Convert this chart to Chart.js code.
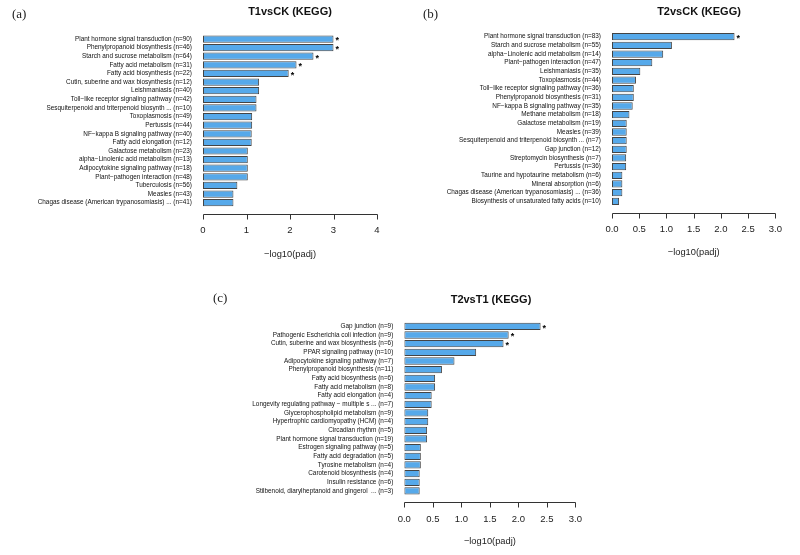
<!DOCTYPE html>
<html>
<head>
<meta charset="utf-8">
<script src="https://cdn.jsdelivr.net/npm/chart.js@4"></script>
<style>
  body { margin: 0; background: #fff; }
  #wrap { position: relative; width: 800px; height: 555px; overflow: hidden; }
  canvas { position: absolute; }
  .tag { position: absolute; font-family: 'Liberation Serif', 'Times New Roman', serif; font-size: 13px; color: #222; line-height: 1; }
  .ttl { position: absolute; font-family: 'Liberation Sans', Arial, sans-serif; font-weight: bold; font-size: 11px; color: #111; line-height: 1; transform: translate(-50%, -50%); white-space: nowrap; }
</style>
</head>
<body>
<div id="wrap">
  <canvas id="chartA" width="400" height="277" style="left:0;top:0"></canvas>
  <canvas id="chartB" width="400" height="277" style="left:400px;top:0"></canvas>
  <canvas id="chartC" width="400" height="278" style="left:200px;top:277px"></canvas>
  <div class="tag" style="left:12px;top:7px">(a)</div>
  <div class="tag" style="left:423px;top:7px">(b)</div>
  <div class="tag" style="left:213px;top:291px">(c)</div>
  <div class="ttl" style="left:290px;top:11px">T1vsCK (KEGG)</div>
  <div class="ttl" style="left:699px;top:11px">T2vsCK (KEGG)</div>
  <div class="ttl" style="left:491px;top:299px">T2vsT1 (KEGG)</div>
</div>
<script>
// (a) T1vsCK
const labelsA = [
    'Plant hormone signal transduction (n=90)',
    'Phenylpropanoid biosynthesis (n=46)',
    'Starch and sucrose metabolism (n=64)',
    'Fatty acid metabolism (n=31)',
    'Fatty acid biosynthesis (n=22)',
    'Cutin, suberine and wax biosynthesis (n=12)',
    'Leishmaniasis (n=40)',
    'Toll−like receptor signaling pathway (n=42)',
    'Sesquiterpenoid and triterpenoid biosynth ... (n=10)',
    'Toxoplasmosis (n=49)',
    'Pertussis (n=44)',
    'NF−kappa B signaling pathway (n=40)',
    'Fatty acid elongation (n=12)',
    'Galactose metabolism (n=23)',
    'alpha−Linolenic acid metabolism (n=13)',
    'Adipocytokine signaling pathway (n=18)',
    'Plant−pathogen interaction (n=48)',
    'Tuberculosis (n=56)',
    'Measles (n=43)',
    'Chagas disease (American trypanosomiasis) ... (n=41)'
];
const valuesA = [3.0, 3.0, 2.54, 2.15, 1.97, 1.29, 1.29, 1.23, 1.23, 1.13, 1.13, 1.12, 1.12, 1.03, 1.03, 1.03, 1.03, 0.79, 0.70, 0.70];
const starsA = ['*', '*', '*', '*', '*', '', '', '', '', '', '', '', '', '', '', '', '', '', '', ''];
const ticksA = [0, 1, 2, 3, 4];

// (b) T2vsCK
const labelsB = [
    'Plant hormone signal transduction (n=83)',
    'Starch and sucrose metabolism (n=55)',
    'alpha−Linolenic acid metabolism (n=14)',
    'Plant−pathogen interaction (n=47)',
    'Leishmaniasis (n=35)',
    'Toxoplasmosis (n=44)',
    'Toll−like receptor signaling pathway (n=36)',
    'Phenylpropanoid biosynthesis (n=31)',
    'NF−kappa B signaling pathway (n=35)',
    'Methane metabolism (n=18)',
    'Galactose metabolism (n=19)',
    'Measles (n=39)',
    'Sesquiterpenoid and triterpenoid biosynth ... (n=7)',
    'Gap junction (n=12)',
    'Streptomycin biosynthesis (n=7)',
    'Pertussis (n=36)',
    'Taurine and hypotaurine metabolism (n=6)',
    'Mineral absorption (n=6)',
    'Chagas disease (American trypanosomiasis) ... (n=36)',
    'Biosynthesis of unsaturated fatty acids (n=10)'
];
const valuesB = [2.25, 1.10, 0.94, 0.74, 0.52, 0.44, 0.40, 0.40, 0.38, 0.32, 0.27, 0.27, 0.27, 0.27, 0.26, 0.26, 0.19, 0.19, 0.19, 0.13];
const starsB = ['*', '', '', '', '', '', '', '', '', '', '', '', '', '', '', '', '', '', '', ''];
const ticksB = [0, 0.5, 1.0, 1.5, 2.0, 2.5, 3.0];

// (c) T2vsT1
const labelsC = [
    'Gap junction (n=9)',
    'Pathogenic Escherichia coli infection (n=9)',
    'Cutin, suberine and wax biosynthesis (n=6)',
    'PPAR signaling pathway (n=10)',
    'Adipocytokine signaling pathway (n=7)',
    'Phenylpropanoid biosynthesis (n=11)',
    'Fatty acid biosynthesis (n=6)',
    'Fatty acid metabolism (n=8)',
    'Fatty acid elongation (n=4)',
    'Longevity regulating pathway − multiple s ... (n=7)',
    'Glycerophospholipid metabolism (n=9)',
    'Hypertrophic cardiomyopathy (HCM) (n=4)',
    'Circadian rhythm (n=5)',
    'Plant hormone signal transduction (n=19)',
    'Estrogen signaling pathway (n=5)',
    'Fatty acid degradation (n=5)',
    'Tyrosine metabolism (n=4)',
    'Carotenoid biosynthesis (n=4)',
    'Insulin resistance (n=6)',
    'Stilbenoid, diarylheptanoid and gingerol  ... (n=3)'
];
const valuesC = [2.39, 1.83, 1.74, 1.26, 0.88, 0.66, 0.54, 0.54, 0.48, 0.48, 0.42, 0.42, 0.40, 0.40, 0.29, 0.29, 0.29, 0.27, 0.27, 0.27];
const starsC = ['*', '*', '*', '', '', '', '', '', '', '', '', '', '', '', '', '', '', '', '', ''];
const ticksC = [0, 0.5, 1.0, 1.5, 2.0, 2.5, 3.0];

const FONT = "'Liberation Sans', Arial, sans-serif";

// R-style axis: line from first to last tick, ticks hanging down, a few px below the bars
const axisLine = {
    id: 'axisLine',
    afterDraw(chart) {
        const sx = chart.scales.x;
        const ctx = chart.ctx;
        const y0 = Math.round(chart.chartArea.bottom + 7) + 0.5;
        ctx.save();
        ctx.strokeStyle = '#333';
        ctx.lineWidth = 1;
        ctx.beginPath();
        ctx.moveTo(Math.round(sx.getPixelForValue(sx.min)) + 0.5, y0);
        ctx.lineTo(Math.round(sx.getPixelForValue(sx.max)) + 0.5, y0);
        sx.ticks.forEach(t => {
            const px = Math.round(sx.getPixelForValue(t.value)) + 0.5;
            ctx.moveTo(px, y0);
            ctx.lineTo(px, y0 + 5);
        });
        ctx.stroke();
        ctx.restore();
    }
};

const starMarks = {
    id: 'stars',
    afterDatasetsDraw(chart, args, opts) {
        const ctx = chart.ctx;
        const bars = chart.getDatasetMeta(0).data;
        ctx.save();
        ctx.fillStyle = '#000';
        ctx.font = 'bold 9px ' + FONT;
        ctx.textAlign = 'left';
        ctx.textBaseline = 'middle';
        bars.forEach((bar, i) => {
            if (opts.marks[i]) ctx.fillText(opts.marks[i], bar.x + 2, bar.y + 2);
        });
        ctx.restore();
    }
};

const makePanel = (id, labels, values, stars, tickVals, decimals, g) => {
    const canvas = document.getElementById(id);
    return new Chart(canvas.getContext('2d'), {
        type: 'bar',
        data: {
            labels: labels,
            datasets: [{
                data: values,
                backgroundColor: '#56A9EA',
                borderColor: '#444',
                borderWidth: 1,
                borderSkipped: false,
                barPercentage: 0.84,
                categoryPercentage: 1.0,
            }],
        },
        options: {
            indexAxis: 'y',
            responsive: false,
            animation: false,
            layout: { padding: { left: 0, right: g.right, top: g.top, bottom: 0 } },
            plugins: {
                legend: { display: false },
                tooltip: { enabled: false },
                stars: { marks: stars },
            },
            scales: {
                x: {
                    min: tickVals[0],
                    max: tickVals[tickVals.length - 1],
                    grid: { display: false, drawTicks: false },
                    border: { display: false },
                    afterBuildTicks: (scale) => {
                        scale.ticks = tickVals.map(v => ({ value: v }));
                    },
                    afterFit: (scale) => { scale.height = g.axisH; },
                    ticks: {
                        padding: 18,
                        color: '#222',
                        font: { family: FONT, size: 9.5 },
                        maxRotation: 0,
                        callback: (v) => Number(v).toFixed(decimals),
                    },
                    title: {
                        display: true,
                        text: '−log10(padj)',
                        color: '#222',
                        font: { family: FONT, size: 9.3 },
                        padding: { top: 0, bottom: g.titlePad },
                    },
                },
                y: {
                    grid: { display: false, drawTicks: false },
                    border: { display: false },
                    afterFit: (scale) => { scale.width = g.left; },
                    ticks: {
                        autoSkip: false,
                        padding: 11,
                        color: '#111',
                        font: { family: FONT, size: 6.4 },
                    },
                },
            },
        },
        plugins: [axisLine, starMarks],
    });
};

makePanel('chartA', labelsA, valuesA, starsA, ticksA, 0, { left: 203, right: 23, top: 34.7, axisH: 70, titlePad: 16.5 });
makePanel('chartB', labelsB, valuesB, starsB, ticksB, 1, { left: 212, right: 14, top: 32.4, axisH: 71.4, titlePad: 18.8 });
makePanel('chartC', labelsC, valuesC, starsC, ticksC, 1, { left: 204.3, right: 22.3, top: 45, axisH: 59.7, titlePad: 7.8 });
</script>
</body>
</html>
